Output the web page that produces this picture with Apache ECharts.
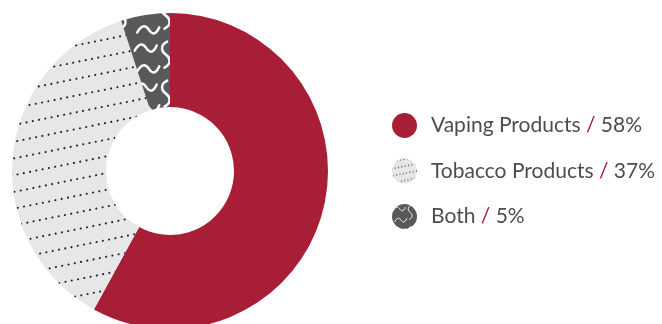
<!DOCTYPE html>
<html>
<head>
<meta charset="utf-8">
<script src="https://cdn.jsdelivr.net/npm/echarts@6/dist/echarts.min.js"></script>
<style>
  html, body { margin: 0; padding: 0; background: #fff; }
  #chart { width: 662px; height: 324px; }
</style>
</head>
<body>
<div id="chart"></div>
<script>
// data
const categories = ['Vaping Products', 'Tobacco Products', 'Both'];
const shares = [58, 37, 5];

const RED = '#a81e36';
const LIGHT = '#e6e7e8';
const DARK = '#58595b';

// light gray with tilted rows of small dots
function dotPattern(w, h, rowGap, dotGap, r) {
    const c = document.createElement('canvas');
    c.width = w; c.height = h;
    const ctx = c.getContext('2d');
    ctx.fillStyle = LIGHT;
    ctx.fillRect(0, 0, w, h);
    ctx.fillStyle = '#231f20';
    ctx.save();
    ctx.rotate(-11.5 * Math.PI / 180);
    const span = Math.max(w, h) * 2;
    for (let y = -span; y < span; y += rowGap) {
        for (let x = -span; x < span; x += dotGap) {
            ctx.beginPath();
            ctx.arc(x, y, r, 0, Math.PI * 2);
            ctx.fill();
        }
    }
    ctx.restore();
    return c;
}

// dark gray with white squiggles
function wavePattern(s, lw) {
    const c = document.createElement('canvas');
    c.width = Math.round(34 * s); c.height = Math.round(30 * s);
    const ctx = c.getContext('2d');
    ctx.fillStyle = DARK;
    ctx.fillRect(0, 0, c.width, c.height);
    ctx.strokeStyle = '#ffffff';
    ctx.lineWidth = lw;
    ctx.lineCap = 'round';
    ctx.scale(s, s);
    // horizontal tilde
    ctx.beginPath();
    ctx.moveTo(2, 9);
    ctx.bezierCurveTo(6, 2, 9, 4, 11, 7);
    ctx.bezierCurveTo(13, 10, 16, 12, 19, 5);
    ctx.stroke();
    // vertical S
    ctx.beginPath();
    ctx.moveTo(27, 2);
    ctx.bezierCurveTo(21, 5, 23, 10, 26, 12);
    ctx.bezierCurveTo(29, 14, 31, 19, 25, 22);
    ctx.stroke();
    // horizontal tilde, lower
    ctx.beginPath();
    ctx.moveTo(4, 25);
    ctx.bezierCurveTo(8, 18, 11, 20, 13, 23);
    ctx.bezierCurveTo(15, 26, 18, 28, 21, 21);
    ctx.stroke();
    return c;
}

const fills = [
    RED,
    { image: dotPattern(700, 340, 16.4, 6.4, 1.05), repeat: 'no-repeat' },
    { image: wavePattern(1.3, 1.9), repeat: 'repeat' }
];
const legendFills = [
    RED,
    { image: dotPattern(30, 30, 7, 3.4, 0.6), repeat: 'repeat' },
    { image: wavePattern(0.7, 1.3), repeat: 'repeat' }
];

const pieData = categories.map((name, i) => ({
    name: name,
    value: shares[i],
    itemStyle: { color: fills[i] }
}));

const chart = echarts.init(document.getElementById('chart'), null, { renderer: 'canvas' });

chart.setOption({
    animation: false,
    legend: {
        orient: 'vertical',
        left: 392,
        top: 113,
        padding: 0,
        icon: 'circle',
        itemWidth: 25,
        itemHeight: 25,
        itemGap: 20.5,
        selectedMode: false,
        data: categories.map((name, i) => ({ name: name, itemStyle: { color: legendFills[i] } })),
        formatter: function (name) {
            const i = categories.indexOf(name);
            return name + ' {s|/} ' + shares[i] + '%';
        },
        textStyle: {
            fontFamily: 'Lato',
            fontSize: 21,
            color: '#4d4d4f',
            padding: [0, 0, 0, 9],
            rich: {
                s: { fontFamily: 'Lato', fontSize: 21, color: RED }
            }
        }
    },
    series: [{
        type: 'pie',
        center: [170, 171],
        radius: [64, 158],
        startAngle: 90,
        clockwise: true,
        label: { show: false },
        labelLine: { show: false },
        emphasis: { disabled: true },
        itemStyle: { borderWidth: 0 },
        data: pieData
    }]
});
</script>
</body>
</html>
